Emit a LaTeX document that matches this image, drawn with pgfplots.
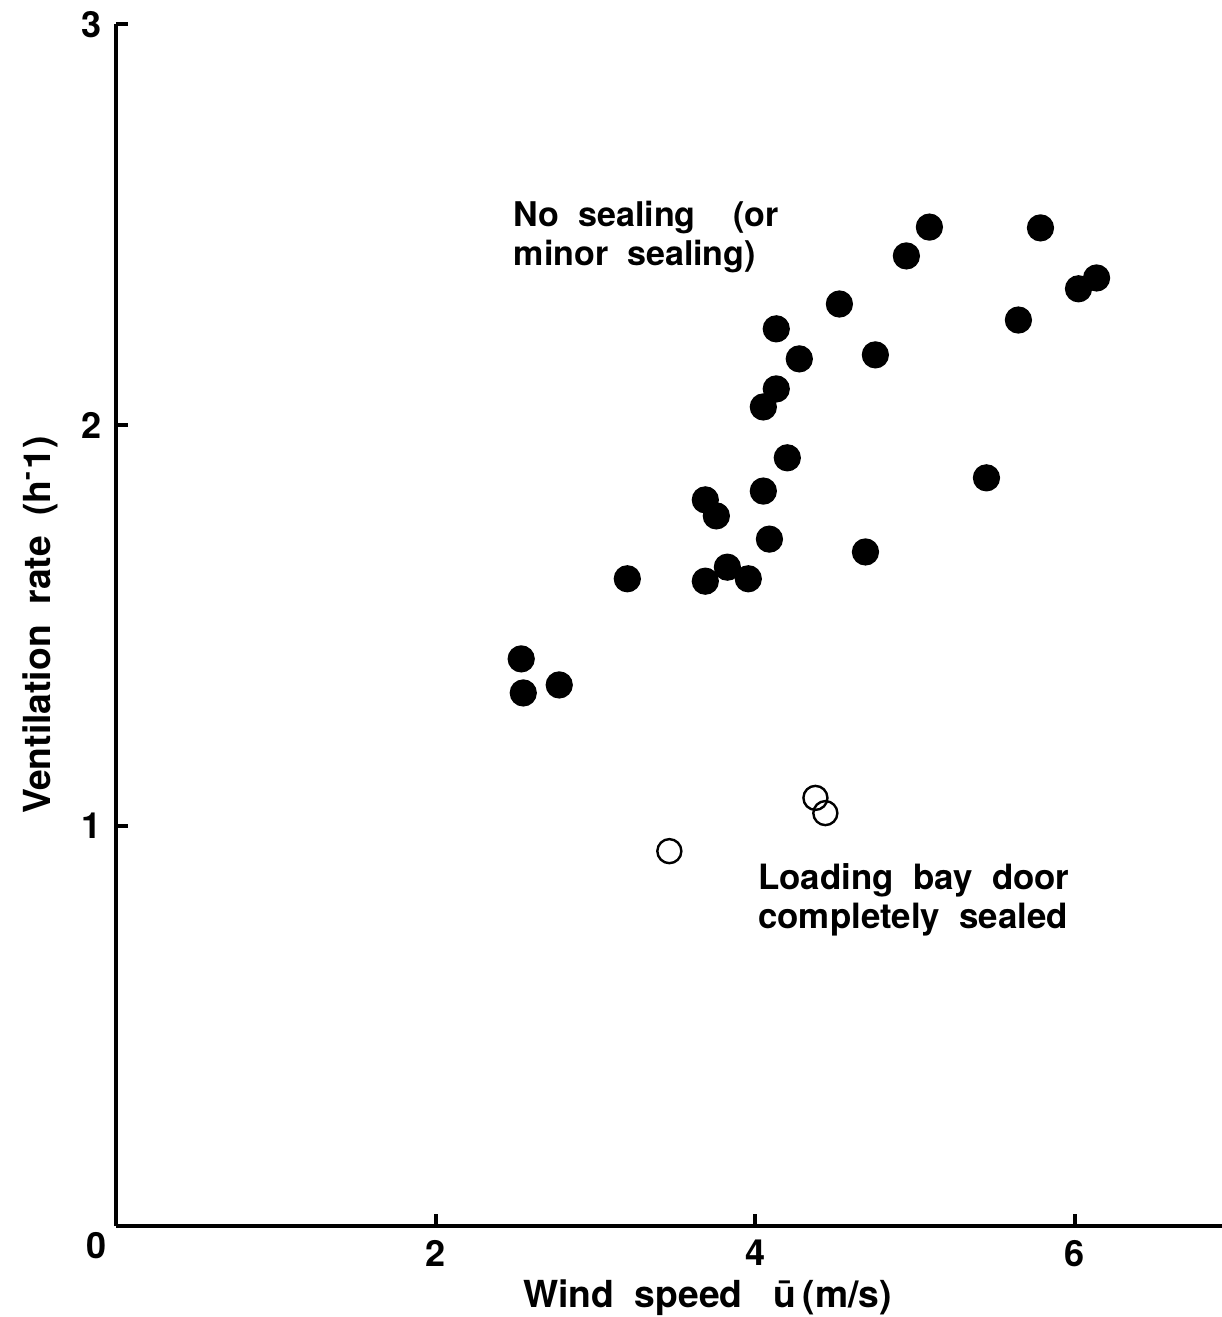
\documentclass[border=0pt]{standalone}
\usepackage{pgfplots}
\pgfplotsset{compat=1.18}
\usepackage{fontspec}
\setmainfont{TeX Gyre Heros}

\begin{document}
\begin{tikzpicture}
\begin{axis}[
  scale only axis,
  width=276pt, height=300pt,
  xmin=0, xmax=6.917,
  ymin=0, ymax=3,
  axis x line*=bottom,
  axis y line*=left,
  axis line style={line width=1.1pt, -},
  tick align=inside,
  major tick length=3pt,
  tick style={line width=1pt, black},
  xtick={2,4,6},
  ytick={1,2,3},
  /pgf/number format/assume math mode=true,
  tick label style={font=\bfseries\fontsize{9}{10}\selectfont},
  xlabel={\bfseries Wind\ \ speed\ \ \ \={u}\,(m/s)},
  ylabel={\bfseries Ventilation\ \ rate\ \ (h\textsuperscript{-}1)},
  label style={font=\fontsize{9.3}{11}\selectfont},
  xlabel style={at={(ticklabel cs:0.535)}, anchor=north, yshift=3.5pt},
  ylabel style={yshift=-1pt},
  clip=false,
]
% no sealing (or minor sealing)
\addplot[only marks, mark=*, mark size=3.2pt, black] coordinates {
  (2.535,1.416) (2.548,1.331) (2.773,1.351) (3.199,1.616) (3.687,1.610)
  (3.687,1.813) (3.756,1.773) (3.825,1.645) (3.956,1.616) (4.050,2.045)
  (4.050,1.835) (4.088,1.715) (4.131,2.090) (4.131,2.240) (4.200,1.918)
  (4.275,2.165) (4.526,2.302) (4.689,1.683) (4.751,2.175) (4.945,2.422)
  (5.089,2.494) (5.446,1.868) (5.646,2.262) (5.784,2.492) (6.022,2.340)
  (6.135,2.367)
};
% loading bay door completely sealed
\addplot[only marks, mark=o, mark size=3pt, black, mark options={line width=0.6pt}] coordinates {
  (3.462,0.936) (4.376,1.069) (4.438,1.031)
};
\node[font=\bfseries\fontsize{9}{10}\selectfont] at (axis cs:-0.12,-0.048) {0};
\node[anchor=west, align=left, font=\bfseries\fontsize{8.5}{9.7}\selectfont] at (axis cs:2.40,2.47)
  {No\ \ sealing\ \ \ \ (or\\minor\ \ sealing)};
\node[anchor=west, align=left, font=\bfseries\fontsize{8.7}{9.7}\selectfont] at (axis cs:3.93,0.815)
  {Loading\ \ bay\ \ door\\completely\ \ sealed};
\coordinate (bl) at (axis cs:-0.726,-0.227);
\coordinate (tr) at (axis cs:6.917,3.061);
\end{axis}
\pgfresetboundingbox
\path[use as bounding box] (bl) rectangle (tr);
\end{tikzpicture}
\end{document}
